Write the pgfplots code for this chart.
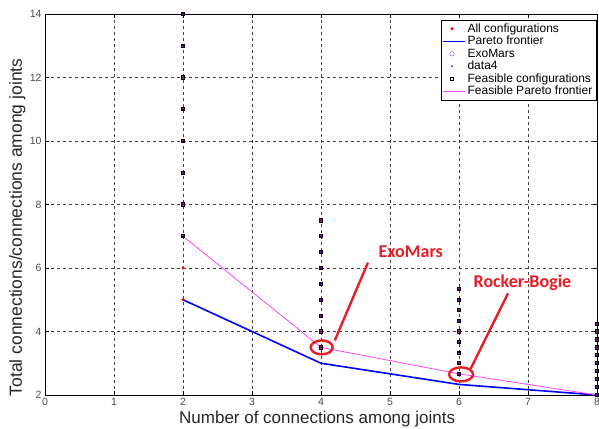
\documentclass[border=0pt]{standalone}
\usepackage{pgfplots}
\pgfplotsset{compat=1.18}
\usepackage{fontspec}
\setmainfont{Liberation Sans}
\newfontfamily\calib{Carlito}
\definecolor{annred}{RGB}{232,28,36}
\definecolor{exoviolet}{RGB}{150,70,230}
\definecolor{pinkline}{RGB}{255,70,255}
\begin{document}
\begin{tikzpicture}
\begin{axis}[name=ax, scale only axis, width=552pt, height=381pt,
  xmin=0, xmax=8, ymin=2, ymax=14,
  xtick={0,1,...,8}, ytick={2,4,...,14},
  grid=major, grid style={black!75, line width=0.5pt, dash pattern=on 3pt off 3pt},
  axis line style={black, line width=0.6pt},
  tick align=inside, major tick length=4pt, tick style={black, line width=0.5pt},
  /pgf/number format/assume math mode=true,
  ticklabel style={font=\fontsize{10.5}{12}\selectfont, text=black!70},
  xlabel={Number of connections among joints},
  ylabel={Total connections/connections among joints},
  every axis x label/.style={at={(axis description cs:0.493,-0.064)}, anchor=center,
     font=\fontsize{17}{20}\selectfont, text=black!85},
  every axis y label/.style={at={(axis description cs:-0.05,0.44)}, anchor=center, rotate=90,
     font=\fontsize{17.5}{20}\selectfont, text=black!85},
  legend style={at={(axis description cs:1,1)}, anchor=north east, xshift=-1pt, yshift=-6pt,
    font=\fontsize{12}{13.5}\selectfont, draw=black, fill=white, row sep=-1.6pt, inner sep=1.5pt},
  legend cell align=left,
  clip=false,
]
% All configurations
\addplot[only marks, mark=*, mark size=1.4pt, color=red] coordinates {
 (2,5) (2,6) (2,7) (2,8) (2,9) (2,10) (2,11) (2,12) (2,13) (2,14)
 (4,3.5) (4,4) (4,4.5) (4,5) (4,5.5) (4,6) (4,6.5) (4,7) (4,7.5)
 (6,2.6667) (6,3) (6,3.3333) (6,3.6667) (6,4) (6,4.3333) (6,4.6667) (6,5) (6,5.3333)
 (8,2) (8,2.25) (8,2.5) (8,2.75) (8,3) (8,3.25) (8,3.5) (8,3.75) (8,4) (8,4.25)
};
\addlegendentry{All configurations}
% Pareto frontier
\addplot[draw=blue, line width=1.6pt,
  legend image code/.code={\draw[blue, line width=1.6pt] (0cm,0cm) -- (0.75cm,0cm);}]
  coordinates {(2,5) (4,3) (6,2.3333) (8,2)};
\addlegendentry{Pareto frontier}
% ExoMars
\addplot[only marks, mark=o, mark size=2.3pt, color=exoviolet] coordinates {(4,3.5)};
\addlegendentry{ExoMars}
% data4
\addplot[only marks, mark=*, mark size=0.6pt, color=blue] coordinates {
 (2,7) (2,8) (2,9) (2,10) (2,11) (2,12) (2,13) (2,14)
 (4,3.5) (4,4) (4,4.5) (4,5) (4,5.5) (4,6) (4,6.5) (4,7) (4,7.5)
 (6,2.6667) (6,3) (6,3.3333) (6,3.6667) (6,4) (6,4.3333) (6,4.6667) (6,5) (6,5.3333)
 (8,2) (8,2.25) (8,2.5) (8,2.75) (8,3) (8,3.25) (8,3.5) (8,3.75) (8,4) (8,4.25)
};
\addlegendentry{data4}
% Feasible configurations
\addplot[only marks, mark=square, mark size=1.6pt, color=black, mark options={line width=0.9pt}] coordinates {
 (2,7) (2,8) (2,9) (2,10) (2,11) (2,12) (2,13) (2,14)
 (4,3.5) (4,4) (4,4.5) (4,5) (4,5.5) (4,6) (4,6.5) (4,7) (4,7.5)
 (6,2.6667) (6,3) (6,3.3333) (6,3.6667) (6,4) (6,4.3333) (6,4.6667) (6,5) (6,5.3333)
 (8,2) (8,2.25) (8,2.5) (8,2.75) (8,3) (8,3.25) (8,3.5) (8,3.75) (8,4) (8,4.25)
};
\addlegendentry{Feasible configurations}
% Feasible Pareto frontier
\addplot[draw=pinkline, line width=0.8pt,
  legend image code/.code={\draw[pinkline, line width=1pt] (0cm,0cm) -- (0.75cm,0cm);}]
  coordinates {(2,7) (4,3.5) (6,2.6667) (8,2)};
\addlegendentry{Feasible Pareto frontier}
% annotations
\draw[annred, line width=2.4pt] (axis cs:4.01,3.5) ellipse [x radius=11pt, y radius=7pt];
\draw[annred, line width=2.4pt] (axis cs:4.68,6.17) -- (axis cs:4.20,3.72);
\node[annred, font=\calib\bfseries\fontsize{18}{20}\selectfont] at (axis cs:5.3,6.5) {ExoMars};
\draw[annred, line width=2.4pt] (axis cs:6.03,2.65) ellipse [x radius=12pt, y radius=7pt];
\draw[annred, line width=2.4pt] (axis cs:6.71,5.2) -- (axis cs:6.17,2.83);
\node[annred, font=\calib\bfseries\fontsize{18}{20}\selectfont] at (axis cs:6.92,5.55) {Rocker-Bogie};
\end{axis}
\pgfresetboundingbox
\path ([xshift=-45pt,yshift=-33pt]ax.south west) rectangle ([xshift=2pt,yshift=14pt]ax.north east);
\end{tikzpicture}
\end{document}
